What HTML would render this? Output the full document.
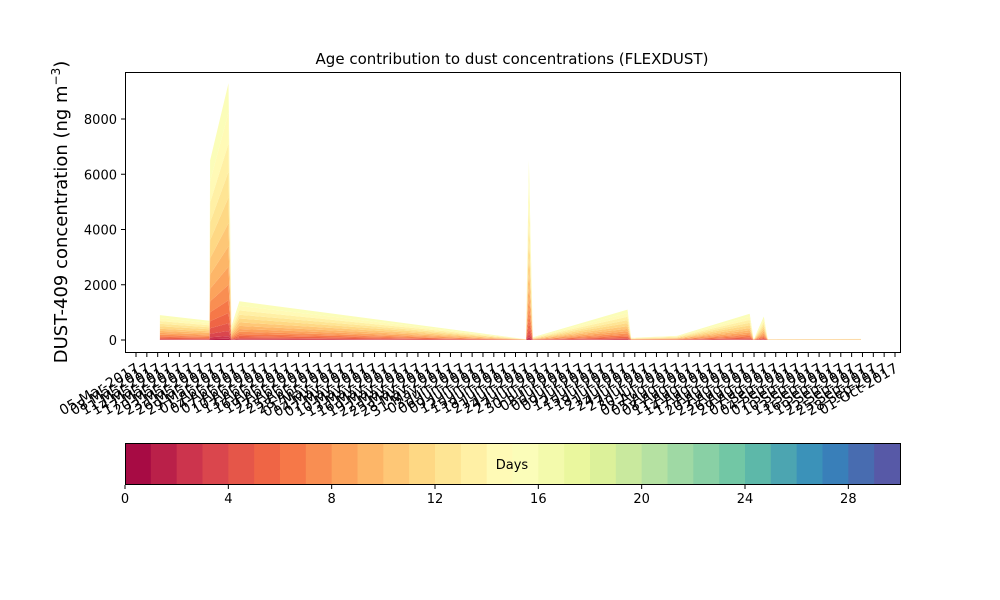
<!DOCTYPE html>
<html><head><meta charset="utf-8">
<style>
html,body{margin:0;padding:0;background:#fff;}
svg{display:block;font-family:"DejaVu Sans","Liberation Sans",sans-serif;}
</style></head>
<body>
<svg id="chart" width="1000" height="600" viewBox="0 0 1000 600" xmlns="http://www.w3.org/2000/svg">
<rect width="1000" height="600" fill="#fff"/>
<text x="512" y="64" font-size="15" text-anchor="middle">Age contribution to dust concentrations (FLEXDUST)</text>
<text transform="translate(67,212) rotate(-90)" font-size="18" text-anchor="middle">DUST-409 concentration (ng m<tspan dy="-7" font-size="12">−3</tspan><tspan dy="7">)</tspan></text>
<g id="areas"></g>
<rect x="125.5" y="72.5" width="775" height="280" fill="none" stroke="#000" stroke-width="1"/>
<g id="yaxis"></g>
<g id="xaxis"></g>
<g id="cbar"></g>
</svg>
<script>
const NS="http://www.w3.org/2000/svg";
// ---- data ----
const sampleDays=[6.6,20.3,20.5,25.6,26.4,28.6,107.9,108.7,109.8,136,137,149.7,169.8,170.9,173.7,174.8,200.6];
const totalValues=[900,700,6500,9300,500,1400,30,6500,100,1100,80,150,950,20,850,30,40];
const layerShares=[0.005,0.01,0.02,0.03,0.04,0.05,0.06,0.07,0.08,0.09,0.1,0.1,0.11,0.12,0.115];
const yTicks=[0,2000,4000,6000,8000];
const cbarTicks=[0,4,8,12,16,20,24,28];
const startDate=[2017,2,5];
const tickStepDays=3, tickCount=71;
// ---- scales ----
const xS=d=>136+d*(759/210);
const yS=v=>340-v*(221/8000);
const spectral=["#9e0142","#d53e4f","#f46d43","#fdae61","#fee08b","#ffffbf","#e6f598","#abdda4","#66c2a5","#3288bd","#5e4fa2"];
function hex(h){return [1,3,5].map(i=>parseInt(h.substr(i,2),16));}
function cmap(t){t=Math.max(0,Math.min(1,t));const p=t*10,i=Math.min(9,Math.floor(p)),f=p-i;const a=hex(spectral[i]),b=hex(spectral[i+1]);return "rgb("+a.map((v,k)=>Math.round(v+(b[k]-v)*f)).join(",")+")";}
function el(tag,attrs,parent){const e=document.createElementNS(NS,tag);for(const k in attrs)e.setAttribute(k,attrs[k]);parent.appendChild(e);return e;}
// ---- areas ----
const areas=document.getElementById('areas');
let cum=sampleDays.map(()=>0);
layerShares.forEach((s,li)=>{
  const lo=cum.slice(); cum=cum.map((c,i)=>c+s*totalValues[i]);
  let d="M"+sampleDays.map((x,i)=>xS(x).toFixed(1)+","+yS(cum[i]).toFixed(1)).join("L");
  for(let i=sampleDays.length-1;i>=0;i--)d+="L"+xS(sampleDays[i]).toFixed(1)+","+yS(lo[i]).toFixed(1);
  const p=el('path',{d:d+"Z",fill:cmap((li+1.5)/30)},areas);
  
  
});
// ---- y axis ----
const ya=document.getElementById('yaxis');
yTicks.forEach(v=>{
  const y=yS(v);
  const l=el('line',{x1:121,x2:125,y1:y,y2:y,stroke:"#000"},ya);
  
  
  const t=el('text',{x:117,y:y+5,"font-size":13,"text-anchor":"end"},ya);
  t.textContent=v;
  
  
});
// ---- x axis ----
const xa=document.getElementById('xaxis');
const mons=["Jan","Feb","Mar","Apr","May","Jun","Jul","Aug","Sep","Oct","Nov","Dec"];
for(let i=0;i<tickCount;i++){
  const x=xS(i*tickStepDays);
  const l=el('line',{x1:x,x2:x,y1:353,y2:357,stroke:"#000"},xa);
  
  
  const dt=new Date(startDate[0],startDate[1],startDate[2]+i*tickStepDays);
  const lab=String(dt.getDate()).padStart(2,"0")+"-"+mons[dt.getMonth()]+"-"+dt.getFullYear();
  const t=el('text',{x:0,y:0,"font-size":14,"text-anchor":"end",transform:"translate("+(x+4)+",371) rotate(-30)"},xa);
  t.textContent=lab;
  
  
}
// ---- colorbar ----
const cb=document.getElementById('cbar');
const cx=v=>125+v*(775/30);
for(let i=0;i<30;i++){
  const r=el('rect',{x:cx(i),y:443,width:775/30+0.5,height:42,fill:cmap((i+0.5)/30)},cb);
  
  
}
el('rect',{x:125.5,y:443.5,width:775,height:41,fill:"none",stroke:"#000"},cb);
const dl=el('text',{x:512,y:469,"font-size":13,"text-anchor":"middle"},cb);
dl.textContent="Days";


cbarTicks.forEach(v=>{
  const l=el('line',{x1:cx(v),x2:cx(v),y1:485,y2:489,stroke:"#000"},cb);
  
  
  const t=el('text',{x:cx(v),y:503,"font-size":13,"text-anchor":"middle"},cb);
  t.textContent=v;
  
  
});
</script>
</body></html>
